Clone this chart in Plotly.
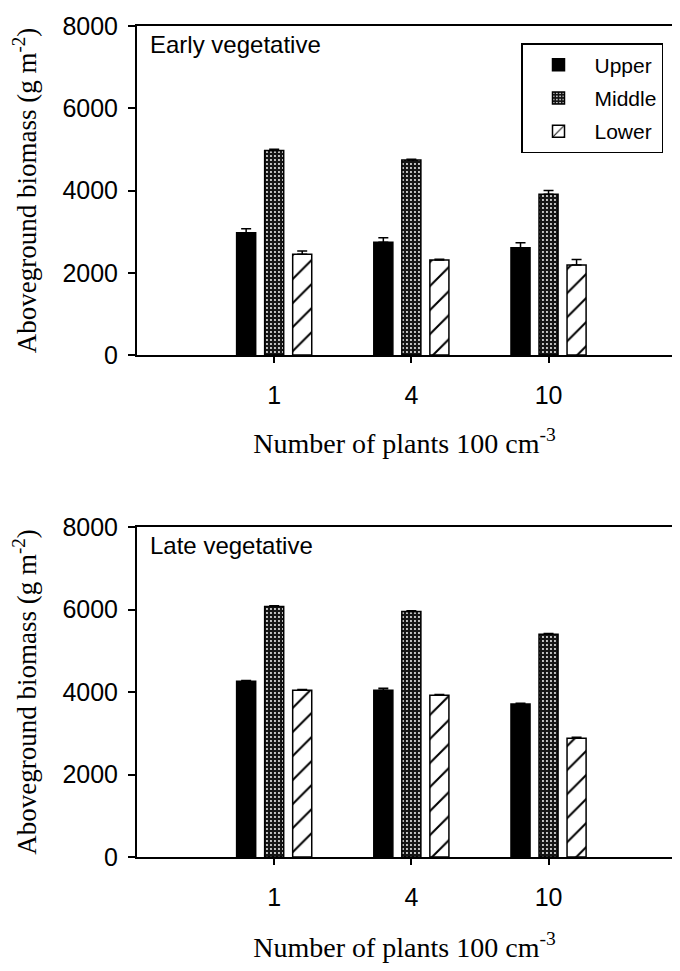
import plotly.graph_objects as go
from plotly.subplots import make_subplots

categories = ["1", "4", "10"]
series_names = ["Upper", "Middle", "Lower"]

early_upper = [2970, 2740, 2610]
early_middle = [4975, 4740, 3910]
early_lower = [2450, 2310, 2190]
early_upper_err = [100, 110, 120]
early_middle_err = [30, 20, 90]
early_lower_err = [80, 20, 130]

late_upper = [4260, 4040, 3710]
late_middle = [6070, 5950, 5400]
late_lower = [4040, 3920, 2880]
late_upper_err = [20, 50, 20]
late_middle_err = [20, 20, 20]
late_lower_err = [20, 20, 20]

panel_labels = ["Early vegetative", "Late vegetative"]
y_ticks = [0, 2000, 4000, 6000, 8000]

SANS = "Liberation Sans, Arial, sans-serif"
SERIF = "Liberation Serif, Times New Roman, serif"

# page body has an 8px margin; the figure is sized to fit inside the window
W, H = 664, 955
OFF = 8

styles = {
    "Upper": dict(color="black", line=dict(color="black", width=1.5)),
    "Middle": dict(color="black", line=dict(color="black", width=1.5),
                   pattern=dict(shape=".", fgcolor="white", bgcolor="#151515",
                                size=4, solidity=0.18, fillmode="replace")),
    "Lower": dict(color="white", line=dict(color="black", width=1.5),
                  pattern=dict(shape="/", fgcolor="black", bgcolor="white",
                               size=17, solidity=0.12, fillmode="replace")),
}

fig = make_subplots(rows=2, cols=1)

panels = [
    ([early_upper, early_middle, early_lower],
     [early_upper_err, early_middle_err, early_lower_err]),
    ([late_upper, late_middle, late_lower],
     [late_upper_err, late_middle_err, late_lower_err]),
]

for r, (vals, errs) in enumerate(panels, start=1):
    for name, v, e in zip(series_names, vals, errs):
        fig.add_trace(go.Bar(
            x=categories, y=v, name=name, marker=styles[name],
            showlegend=(r == 1), legendgroup=name,
            error_y=dict(type="data", array=e, symmetric=False,
                         arrayminus=[0] * len(e), color="black",
                         thickness=1.5, width=5),
        ), row=r, col=1)

def vdom(top_px, bot_px):
    return [1 - (bot_px - OFF) / H, 1 - (top_px - OFF) / H]

doms = [vdom(26, 355), vdom(527, 857)]
title_standoffs = [25, 40]

for i, (dom, so) in enumerate(zip(doms, title_standoffs), start=1):
    xa = "xaxis" if i == 1 else "xaxis2"
    ya = "yaxis" if i == 1 else "yaxis2"
    fig.layout[xa].update(
        type="category", range=[-1, 2.9], domain=[(137 - OFF) / W, 1.0],
        automargin=False,
        showline=True, linecolor="black", linewidth=2, mirror=True,
        ticks="outside", ticklen=6, tickwidth=1.5, tickcolor="black",
        ticklabelstandoff=11,
        showgrid=False, zeroline=False,
        tickfont=dict(family=SANS, size=25, color="black"),
        title=dict(text="Number of plants 100 cm<sup>-3</sup>",
                   font=dict(family=SERIF, size=28, color="black"), standoff=so),
    )
    fig.layout[ya].update(
        domain=dom, range=[0, 8000], tickvals=y_ticks, automargin=False,
        showline=True, linecolor="black", linewidth=2,
        ticks="outside", ticklen=7, tickwidth=1.5, tickcolor="black",
        ticklabelstandoff=5,
        showgrid=False, zeroline=False,
        tickfont=dict(family=SANS, size=25, color="black"),
        title=dict(text="Aboveground biomass (g m<sup>-2</sup>)",
                   font=dict(family=SERIF, size=27, color="black"), standoff=18),
    )

for i, lab in enumerate(panel_labels):
    suf = "" if i == 0 else "2"
    fig.add_annotation(text=lab, xref=f"x{suf} domain", yref=f"y{suf} domain",
                       x=0.02, y=0.99, xanchor="left", yanchor="top",
                       showarrow=False,
                       font=dict(family=SANS, size=24, color="black"))

fig.update_layout(
    width=W, height=H,
    margin=dict(l=0, r=0, t=0, b=0),
    paper_bgcolor="white", plot_bgcolor="white",
    barmode="group", bargap=0.387, bargroupgap=0.32,
    showlegend=True,
    legend=dict(x=(521 - OFF) / W, y=1 - (43 - OFF) / H,
                xanchor="left", yanchor="top",
                bordercolor="black", borderwidth=1.5, bgcolor="white",
                font=dict(family=SANS, size=21, color="black"),
                itemwidth=62, tracegroupgap=3),
)

fig.write_html("out.html")
